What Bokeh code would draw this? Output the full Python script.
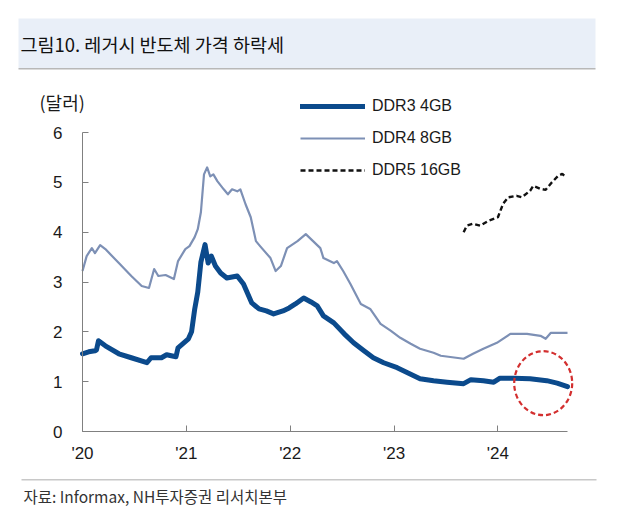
from bokeh.plotting import figure
from bokeh.models import Range1d, FixedTicker, Legend, LegendItem, Label, BoxAnnotation
from bokeh.embed import file_html
from bokeh.resources import INLINE

# ---------------- data (x = fractional year) ----------------
ddr3_x = [2020.00, 2020.06, 2020.12, 2020.135, 2020.154, 2020.22, 2020.35, 2020.47, 2020.62, 2020.66,
          2020.76, 2020.81, 2020.90, 2020.92, 2021.02, 2021.05, 2021.08, 2021.11, 2021.14, 2021.18,
          2021.21, 2021.24, 2021.28, 2021.33, 2021.39, 2021.44, 2021.49, 2021.55, 2021.63, 2021.70,
          2021.77, 2021.84, 2021.93, 2021.99, 2022.05, 2022.13, 2022.20, 2022.26, 2022.32, 2022.42,
          2022.52, 2022.61, 2022.71, 2022.80, 2022.90, 2023.03, 2023.13, 2023.25, 2023.38, 2023.51,
          2023.67, 2023.74, 2023.86, 2023.96, 2024.02, 2024.15, 2024.31, 2024.47, 2024.57, 2024.67]
ddr3_y = [1.56, 1.60, 1.62, 1.64, 1.82, 1.72, 1.56, 1.48, 1.38, 1.48,
          1.48, 1.54, 1.50, 1.68, 1.86, 2.00, 2.45, 2.80, 3.40, 3.75,
          3.38, 3.52, 3.32, 3.18, 3.08, 3.10, 3.12, 2.96, 2.58, 2.46,
          2.42, 2.36, 2.42, 2.48, 2.56, 2.68, 2.60, 2.52, 2.32, 2.18,
          1.96, 1.78, 1.62, 1.48, 1.38, 1.28, 1.18, 1.06, 1.02, 0.99,
          0.96, 1.04, 1.02, 0.99, 1.07, 1.07, 1.06, 1.02, 0.97, 0.90]

ddr4_x = [2020.00, 2020.04, 2020.09, 2020.12, 2020.17, 2020.22, 2020.35, 2020.47, 2020.57, 2020.64,
          2020.69, 2020.73, 2020.80, 2020.88, 2020.92, 2020.99, 2021.03, 2021.08, 2021.11, 2021.14,
          2021.17, 2021.20, 2021.23, 2021.26, 2021.30, 2021.36, 2021.40, 2021.44, 2021.49, 2021.52,
          2021.57, 2021.62, 2021.67, 2021.71, 2021.81, 2021.86, 2021.91, 2021.97, 2022.07, 2022.15,
          2022.22, 2022.29, 2022.32, 2022.42, 2022.45, 2022.51, 2022.58, 2022.68, 2022.77, 2022.87,
          2022.97, 2023.06, 2023.16, 2023.25, 2023.38, 2023.45, 2023.56, 2023.67, 2023.76, 2023.86,
          2023.99, 2024.12, 2024.28, 2024.41, 2024.46, 2024.51, 2024.67]
ddr4_y = [3.22, 3.52, 3.68, 3.58, 3.74, 3.66, 3.38, 3.12, 2.92, 2.88,
          3.26, 3.12, 3.14, 3.06, 3.42, 3.66, 3.72, 3.90, 4.06, 4.40,
          5.16, 5.30, 5.12, 5.16, 5.02, 4.86, 4.76, 4.86, 4.82, 4.86,
          4.56, 4.30, 3.82, 3.72, 3.48, 3.22, 3.32, 3.68, 3.82, 3.96,
          3.82, 3.68, 3.48, 3.38, 3.42, 3.22, 2.96, 2.56, 2.46, 2.16,
          2.02, 1.88, 1.76, 1.66, 1.58, 1.52, 1.49, 1.46, 1.56, 1.66,
          1.78, 1.96, 1.96, 1.92, 1.86, 1.98, 1.98]

ddr5_x = [2023.67, 2023.70, 2023.76, 2023.83, 2023.91, 2024.00, 2024.05, 2024.10, 2024.18, 2024.23,
          2024.31, 2024.34, 2024.41, 2024.46, 2024.52, 2024.58, 2024.62, 2024.65]
ddr5_y = [4.00, 4.13, 4.17, 4.13, 4.23, 4.30, 4.57, 4.70, 4.73, 4.70,
          4.83, 4.93, 4.87, 4.85, 5.00, 5.13, 5.17, 5.11]

series_names = ["DDR3 4GB", "DDR4 8GB", "DDR5 16GB"]
x_ticks = [2020, 2021, 2022, 2023, 2024]
x_tick_labels = ["'20", "'21", "'22", "'23", "'24"]
y_ticks = [0, 1, 2, 3, 4, 5, 6]
x_start, x_end = 2020.0, 2024.67
y_start, y_end = 0, 6

title_text = "그림10. 레거시 반도체 가격 하락세"
unit_text = "(달러)"
source_text = "자료: Informax, NH투자증권 리서치본부"

# ---------------- layout (picture pixel geometry) ----------------
W, H = 616, 508
OFF = 0                         # canvas origin in the picture
AX_LEFT, AX_RIGHT = 82, 567     # picture x of x_start / x_end
AX_TOP, AX_BOTTOM = 132, 431    # picture y of y_end / y_start
PXY = (AX_RIGHT - AX_LEFT) / (x_end - x_start)
PYU = (AX_BOTTOM - AX_TOP) / (y_end - y_start)


def dx(px):
    return x_start + (px - AX_LEFT) / PXY


def dy(py):
    return y_start + (AX_BOTTOM - py) / PYU


C3 = "#0B4A8C"
C4 = "#7D90B5"
C5 = "#111111"
NUM_FONT = "Liberation Sans Narrow, Arial Narrow, Liberation Sans, sans-serif"
KR_FONT = "Noto Sans CJK KR"

# the frame covers the whole canvas; axes are pinned with fixed_location
p = figure(width=W, height=H,
           x_range=Range1d(dx(OFF), dx(OFF + W)), y_range=Range1d(dy(OFF + H), dy(OFF)),
           output_backend="svg", toolbar_location=None,
           min_border_left=0, min_border_right=0, min_border_top=0, min_border_bottom=0)
p.grid.visible = False
p.outline_line_color = None
p.background_fill_color = "white"
p.border_fill_color = "white"

ax = p.xaxis[0]
ax.ticker = FixedTicker(ticks=x_ticks)
ax.major_label_overrides = {t: l for t, l in zip(x_ticks, x_tick_labels)}
ax.bounds = (x_start, x_end)
ax.fixed_location = y_start
ay = p.yaxis[0]
ay.ticker = FixedTicker(ticks=y_ticks)
ay.bounds = (y_start, y_end)
ay.fixed_location = x_start
for a in (ax, ay):
    a.axis_line_color = "#808080"
    a.major_tick_line_color = "#808080"
    a.major_tick_in = 6
    a.major_tick_out = 0
    a.minor_tick_in = 0
    a.minor_tick_out = 0
    a.major_label_text_font = NUM_FONT
    a.major_label_text_font_size = "17px"
    a.major_label_text_color = "#1a1a1a"
ax.major_label_standoff = 12
ay.major_label_standoff = 20

# title band
p.add_layout(BoxAnnotation(left=dx(18), right=dx(595), top=dy(18), bottom=dy(68),
                           fill_color="#E9EFF8", fill_alpha=1.0, line_color=None))
p.add_layout(BoxAnnotation(left=dx(18), right=dx(595), top=dy(67.5), bottom=dy(69),
                           fill_color="#B8B8B8", fill_alpha=1.0, line_color=None))
p.add_layout(Label(x=dx(20), y=dy(43), text=title_text, text_font=KR_FONT,
                   text_font_size="18.5px", text_baseline="middle", text_align="left",
                   text_color="#111111"))
p.add_layout(Label(x=dx(39), y=dy(101), text=unit_text, text_font=KR_FONT,
                   text_font_size="18px", text_baseline="middle", text_align="left",
                   text_color="#1a1a1a"))
# source
p.add_layout(BoxAnnotation(left=dx(21), right=dx(596), top=dy(478.5), bottom=dy(480),
                           fill_color="#C8C8C8", fill_alpha=1.0, line_color=None))
p.add_layout(Label(x=dx(23), y=dy(495.5), text=source_text, text_font=KR_FONT,
                   text_font_size="15.5px", text_baseline="middle", text_align="left",
                   text_color="#333333"))

# series
r4 = p.line(ddr4_x, ddr4_y, line_color=C4, line_width=2.2, line_join="round")
r3 = p.line(ddr3_x, ddr3_y, line_color=C3, line_width=5, line_join="round", line_cap="round")
r5 = p.line(ddr5_x, ddr5_y, line_color=C5, line_width=2.4, line_dash="5 3")

# red dashed circle highlight
p.ellipse(x=[dx(542.7)], y=[dy(382.7)], width=58 / PXY, height=64 / PYU,
          fill_color=None, line_color="#D32F2F", line_width=2.2, line_dash="5 3")

legend = Legend(items=[LegendItem(label=series_names[0], renderers=[r3]),
                       LegendItem(label=series_names[1], renderers=[r4]),
                       LegendItem(label=series_names[2], renderers=[r5])],
                location=(300 - OFF, OFF + H - 180),
                glyph_width=65, glyph_height=20, label_height=20, spacing=12,
                padding=0, margin=0, label_standoff=7,
                border_line_color=None, background_fill_alpha=0,
                label_text_font=NUM_FONT, label_text_font_size="16px",
                label_text_color="#1a1a1a")
p.add_layout(legend)

open("out.html", "w").write(file_html(p, INLINE))
